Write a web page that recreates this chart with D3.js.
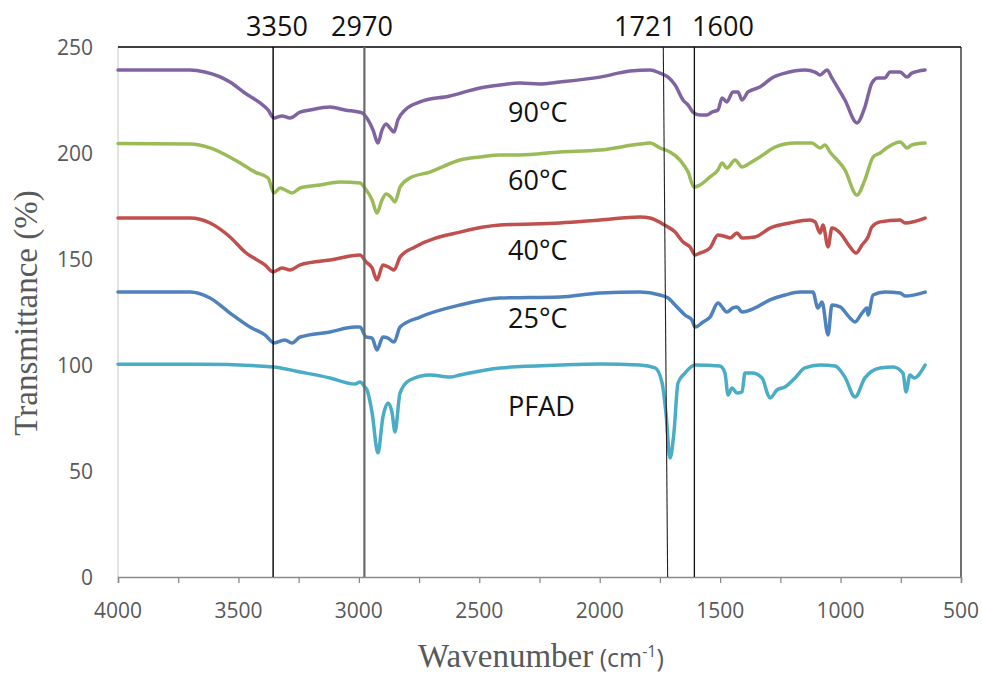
<!DOCTYPE html>
<html>
<head>
<meta charset="utf-8">
<script src="https://cdn.jsdelivr.net/npm/d3@7"></script>
<style>
  html, body { margin: 0; padding: 0; background: #fff; }
  svg { display: block; }
</style>
</head>
<body>
<svg id="chart" width="982" height="673"></svg>
<script>
// ---------- DATA ----------
const seriesNames = ["90°C", "60°C", "40°C", "25°C", "PFAD"];
const seriesColors = ["#8064A2", "#9BBB59", "#C0504D", "#4F81BD", "#4BACC6"];

// [wavenumber (cm-1), transmittance (%)]
const s90 = [[4000,239.2],[3701,239.2],[3639,238.2],[3535,233.5],[3473,228.3],[3410,223.6],[3377,220.3],[3352,216.5],[3319,217.5],[3286,216.5],[3244,219.3],[3203,220.3],[3120,221.7],[3058,220.3],[2987,218.9],[2962,215.6],[2941,210.8],[2921,204.7],[2904,210.8],[2887,213.7],[2871,211.8],[2854,209.9],[2838,215.6],[2808,220.3],[2746,224.1],[2622,226.9],[2497,230.7],[2414,232.1],[2331,233.0],[2250,232.6],[2165,233.5],[1999,235.8],[1874,238.7],[1791,239.2],[1750,237.7],[1716,235.8],[1687,232.1],[1654,225.0],[1633,222.6],[1613,219.3],[1584,217.9],[1555,217.9],[1534,219.3],[1509,220.3],[1492,226.0],[1472,224.1],[1447,228.8],[1426,228.8],[1409,225.0],[1384,228.8],[1335,231.1],[1285,235.4],[1231,237.7],[1148,239.2],[1106,238.2],[1085,236.8],[1056,239.2],[1036,235.4],[982,225.0],[932,214.2],[899,221.7],[870,233.0],[845,235.4],[816,235.4],[795,238.2],[753,238.2],[724,235.8],[704,237.7],[649,239.2]];
const s60 = [[4000,204.5],[3701,204.2],[3618,202.4],[3514,196.7],[3431,191.0],[3377,188.2],[3352,181.1],[3327,183.5],[3298,182.1],[3278,181.1],[3244,183.5],[3161,184.9],[3078,186.3],[2995,185.8],[2975,183.5],[2945,177.8],[2925,171.7],[2904,177.8],[2887,180.7],[2867,179.2],[2850,176.9],[2829,183.9],[2788,188.2],[2705,191.0],[2580,196.7],[2497,198.1],[2414,199.1],[2331,199.1],[2165,200.5],[1999,201.4],[1833,204.2],[1791,204.7],[1750,202.4],[1708,200.5],[1667,196.7],[1633,191.0],[1609,183.9],[1584,184.9],[1542,188.7],[1509,192.0],[1492,195.3],[1472,192.9],[1438,196.7],[1409,193.4],[1376,195.3],[1335,198.1],[1272,202.8],[1189,204.7],[1119,204.7],[1085,202.4],[1065,203.8],[1044,200.5],[982,192.0],[932,180.2],[899,187.3],[865,198.1],[836,200.0],[803,202.8],[753,205.2],[724,202.4],[704,203.8],[649,204.7]];
const s40 = [[4000,169.3],[3701,169.3],[3618,167.0],[3535,160.4],[3473,153.3],[3390,147.2],[3356,143.9],[3319,145.8],[3286,144.8],[3244,147.2],[3120,149.5],[2995,151.9],[2970,148.6],[2945,145.8],[2925,140.1],[2900,147.2],[2871,145.8],[2854,144.8],[2829,150.9],[2767,155.7],[2580,162.7],[2414,166.0],[2165,167.0],[1999,168.4],[1833,169.8],[1791,169.3],[1729,165.9],[1687,162.7],[1654,158.0],[1625,155.7],[1604,151.9],[1584,152.8],[1542,155.2],[1509,161.3],[1472,160.4],[1459,159.9],[1430,162.3],[1409,159.9],[1355,160.4],[1293,164.6],[1210,167.0],[1127,168.4],[1106,167.5],[1085,162.3],[1073,166.0],[1052,155.7],[1036,164.6],[1002,162.3],[961,155.7],[936,152.8],[911,156.6],[886,160.4],[870,165.1],[836,167.5],[753,168.4],[732,167.0],[649,169.3]];
const s25 = [[4000,134.4],[3701,134.4],[3618,131.6],[3535,124.5],[3452,117.9],[3390,114.2],[3352,110.4],[3307,111.8],[3278,110.4],[3244,113.2],[3120,115.6],[3016,117.9],[2995,117.9],[2970,113.2],[2945,112.7],[2925,107.1],[2900,113.2],[2879,112.7],[2854,110.8],[2829,117.9],[2746,122.6],[2580,128.3],[2414,131.6],[2165,132.1],[1999,134.0],[1833,134.4],[1750,133.0],[1716,131.6],[1687,128.3],[1646,123.6],[1617,121.2],[1604,117.9],[1571,120.3],[1542,122.6],[1509,129.2],[1472,125.0],[1447,126.9],[1430,127.4],[1409,125.0],[1355,126.9],[1293,130.7],[1231,133.0],[1168,134.4],[1115,134.4],[1094,126.9],[1077,129.7],[1052,114.2],[1036,128.3],[1002,127.4],[961,122.2],[940,120.3],[911,124.5],[890,126.9],[886,123.6],[865,133.0],[816,134.4],[753,134.0],[732,132.5],[649,134.4]];
const sPFAD = [[4000,100.3],[3660,100.3],[3356,99.1],[3244,96.7],[3120,93.9],[3016,91.0],[2995,92.0],[2975,89.6],[2966,88.2],[2945,77.4],[2921,58.5],[2900,75.5],[2879,82.1],[2862,77.4],[2850,68.4],[2829,86.8],[2788,92.9],[2705,95.3],[2622,94.3],[2580,95.3],[2414,98.6],[2165,100.0],[1999,100.5],[1833,100.0],[1770,98.6],[1741,91.5],[1725,77.4],[1708,56.1],[1692,67.9],[1675,91.5],[1646,96.2],[1604,100.0],[1501,99.5],[1480,96.2],[1467,85.8],[1451,89.2],[1430,86.8],[1409,87.3],[1397,96.2],[1368,96.2],[1326,93.9],[1301,85.8],[1293,84.4],[1264,88.2],[1231,89.6],[1189,93.9],[1148,98.6],[1085,100.0],[1023,99.5],[982,94.3],[940,84.9],[899,93.9],[836,98.6],[782,99.1],[741,96.2],[728,87.3],[712,95.3],[695,93.9],[649,100.0]];
const seriesData = [s90, s60, s40, s25, sPFAD];

const xTicks = [4000, 3500, 3000, 2500, 2000, 1500, 1000, 500];
const xMinorTicks = [4000, 3750, 3500, 3250, 3000, 2750, 2500, 2250, 2000, 1750, 1500, 1250, 1000, 750, 500];
const yTicks = [0, 50, 100, 150, 200, 250];

// marker lines: label, wavenumber at top, wavenumber at bottom
const markerLabels = ["3350", "2970", "1721", "1600"];
const markerTop = [3356, 2977, 1736, 1607];
const markerBottom = [3356, 2977, 1718, 1607];

// ---------- LAYOUT ----------
const margin = { left: 118, right: 21, top: 47, bottom: 96 };
const W = 982, H = 673;
const svg = d3.select("#chart");
const x = d3.scaleLinear().domain([4000, 500]).range([margin.left, W - margin.right]);
const y = d3.scaleLinear().domain([0, 250]).range([H - margin.bottom, margin.top]);

const sansFont = "'Open Sans', 'Noto Sans', sans-serif";
const serifFont = "'Liberation Serif', 'DejaVu Serif', serif";
const gray = "#595959";

// left axis line (light gray)
svg.append("line")
  .attr("x1", x(4000)).attr("x2", x(4000))
  .attr("y1", y(250)).attr("y2", y(0))
  .attr("stroke", "#c8c8c8").attr("stroke-width", 1);

// top and right borders (black)
svg.append("line")
  .attr("x1", x(4000)).attr("x2", x(500))
  .attr("y1", y(250)).attr("y2", y(250))
  .attr("stroke", "#000").attr("stroke-width", 1.3);
svg.append("line")
  .attr("x1", x(500)).attr("x2", x(500))
  .attr("y1", y(250)).attr("y2", y(0))
  .attr("stroke", "#222").attr("stroke-width", 1.3);

// Y tick labels
svg.append("g").selectAll("text").data(yTicks).join("text")
  .attr("x", 93).attr("y", d => y(d) + 8)
  .attr("text-anchor", "end")
  .attr("font-family", sansFont).attr("font-size", 21)
  .attr("fill", gray)
  .text(d => d);

// X axis (bottom)
const xAxis = d3.axisBottom(x).tickValues(xMinorTicks).tickSize(6).tickFormat("");
const gx = svg.append("g").attr("transform", `translate(0,${y(0)})`).call(xAxis);
gx.select(".domain").attr("stroke", "#8a8a8a").attr("stroke-width", 1.5);
gx.selectAll(".tick line").attr("stroke", "#8a8a8a").attr("stroke-width", 1.3);

svg.append("g").selectAll("text").data(xTicks).join("text")
  .attr("x", d => x(d)).attr("y", 618)
  .attr("text-anchor", "middle")
  .attr("font-family", sansFont).attr("font-size", 21)
  .attr("fill", gray)
  .text(d => d);

// Series lines
const line = d3.line().x(d => x(d[0])).y(d => y(d[1])).curve(d3.curveMonotoneX);
svg.append("g").selectAll("path").data(seriesData).join("path")
  .attr("d", d => line(d.slice().sort((a, b) => b[0] - a[0])))
  .attr("fill", "none")
  .attr("stroke", (d, i) => seriesColors[i])
  .attr("stroke-width", 3.5)
  .attr("stroke-linejoin", "round")
  .attr("stroke-linecap", "round");

// Marker lines
const markerStroke = ["#000", "#6a6a6a", "#222", "#111"];
const markerWidth = [1.4, 2.2, 1.1, 1.3];
markerLabels.forEach((lab, i) => {
  svg.append("line")
    .attr("x1", x(markerTop[i])).attr("x2", x(markerBottom[i]))
    .attr("y1", y(250)).attr("y2", y(0))
    .attr("stroke", markerStroke[i]).attr("stroke-width", markerWidth[i]);
});

// Marker labels (above the plot)
const markerLabelX = [277, 362, 645, 723];
svg.append("g").selectAll("text").data(markerLabels).join("text")
  .attr("x", (d, i) => markerLabelX[i]).attr("y", 36)
  .attr("text-anchor", "middle")
  .attr("font-family", sansFont).attr("font-size", 27)
  .attr("fill", "#111")
  .text(d => d);

// Series labels
const seriesLabelX = 508;
const seriesLabelY = [122, 190, 260, 328, 416];
svg.append("g").selectAll("text").data(seriesNames).join("text")
  .attr("x", seriesLabelX).attr("y", (d, i) => seriesLabelY[i])
  .attr("font-family", sansFont).attr("font-size", 27)
  .attr("fill", "#111")
  .text(d => d);

// Y axis title
svg.append("text")
  .attr("transform", `translate(37,${313}) rotate(-90)`)
  .attr("text-anchor", "middle")
  .attr("font-family", serifFont).attr("font-size", 33)
  .attr("fill", gray)
  .text("Transmittance (%)");

// X axis title
const xt = svg.append("text")
  .attr("x", 541).attr("y", 667)
  .attr("text-anchor", "middle")
  .attr("fill", gray);
xt.append("tspan").attr("font-family", serifFont).attr("font-size", 33).text("Wavenumber");
xt.append("tspan").attr("font-family", sansFont).attr("font-size", 25).text(" (cm");
xt.append("tspan").attr("font-family", sansFont).attr("font-size", 16).attr("dy", -10).text("-1");
xt.append("tspan").attr("font-family", sansFont).attr("font-size", 25).attr("dy", 10).text(")");
</script>
</body>
</html>
